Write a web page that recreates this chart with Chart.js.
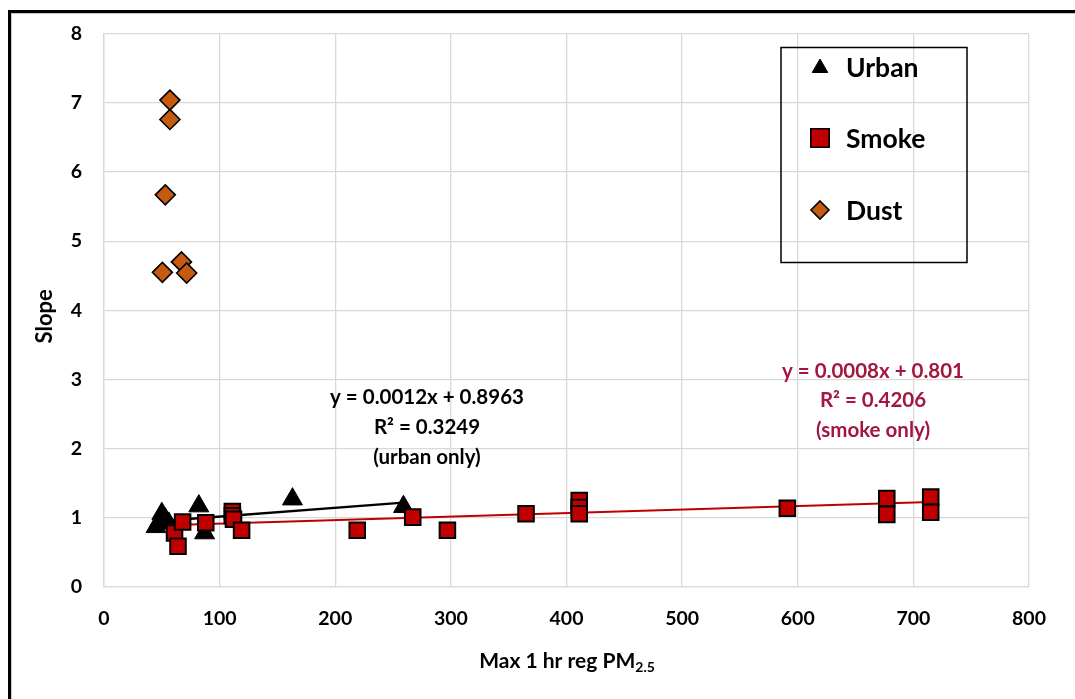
<!DOCTYPE html>
<html>
<head>
<meta charset="utf-8">
<script src="https://cdn.jsdelivr.net/npm/chart.js@4.4.1/dist/chart.umd.min.js"></script>
<style>
  html, body { margin: 0; padding: 0; background: #ffffff; }
  #wrap { position: relative; width: 1075px; height: 699px; overflow: hidden; }
</style>
</head>
<body>
<div id="wrap"><canvas id="c" width="1075" height="699"></canvas></div>
<script>
// ---- Data ----
const urbanX = [45, 48, 50, 53, 56, 82, 87, 163, 259];
const urbanY = [0.87, 0.95, 1.06, 0.98, 0.92, 1.17, 0.78, 1.27, 1.16];

const smokeX = [61, 64, 68, 88, 111, 111, 112, 119, 219, 267, 297, 365, 411, 411, 411, 591, 677, 677, 715, 715];
const smokeY = [0.78, 0.59, 0.94, 0.93, 1.09, 1.03, 0.98, 0.82, 0.82, 1.01, 0.82, 1.06, 1.25, 1.15, 1.06, 1.14, 1.28, 1.05, 1.30, 1.08];

const dustX = [57, 57, 53, 50.5, 67, 71.5];
const dustY = [7.04, 6.76, 5.67, 4.55, 4.70, 4.54];

// trend lines as drawn in the picture (end points)
const urbanFitX = [47, 259];
const urbanFitY = [0.95, 1.22];
const smokeFitX = [61, 715];
const smokeFitY = [0.895, 1.23];

const xTicks = [0, 100, 200, 300, 400, 500, 600, 700, 800];
const yTicks = [0, 1, 2, 3, 4, 5, 6, 7, 8];

const seriesNames = ['Urban', 'Smoke', 'Dust'];
const urbanEq = ['y = 0.0012x + 0.8963', 'R\u00B2 = 0.3249', '(urban only)'];
const smokeEq = ['y = 0.0008x + 0.801', 'R\u00B2 = 0.4206', '(smoke only)'];
const xTitle = 'Max 1 hr reg PM';
const xTitleSub = '2.5';
const yTitle = 'Slope';

const FONT = 'Lato, "Open Sans", sans-serif';
const RED = '#C00000';
const ORANGE = '#C55A11';
const EQRED = '#A3173E';

function pts(xs, ys) { return xs.map((x, i) => ({ x: x, y: ys[i] })); }

function drawMarker(ctx, style, x, y, r, fill) {
  ctx.save();
  ctx.beginPath();
  if (style === 'triangle') {
    ctx.moveTo(x, y - r);
    ctx.lineTo(x + r * 0.866, y + r * 0.5);
    ctx.lineTo(x - r * 0.866, y + r * 0.5);
  } else if (style === 'rect') {
    const s = r * Math.SQRT1_2;
    ctx.rect(x - s, y - s, 2 * s, 2 * s);
  } else {
    ctx.moveTo(x, y - r);
    ctx.lineTo(x + r, y);
    ctx.lineTo(x, y + r);
    ctx.lineTo(x - r, y);
  }
  ctx.closePath();
  ctx.fillStyle = fill;
  ctx.fill();
  ctx.lineWidth = style === 'triangle' ? 1 : 1.6;
  ctx.strokeStyle = '#000';
  ctx.stroke();
  ctx.restore();
}

const decor = {
  id: 'decor',
  beforeDraw(chart) {
    const ctx = chart.ctx;
    ctx.save();
    ctx.fillStyle = '#fff';
    ctx.fillRect(0, 0, chart.width, chart.height);
    // outer frame (cropped on right and bottom)
    ctx.strokeStyle = '#c8c8c8';
    ctx.lineWidth = 1;
    ctx.beginPath();
    ctx.moveTo(11.5, 13.5); ctx.lineTo(2000, 13.5);
    ctx.moveTo(11.5, 13.5); ctx.lineTo(11.5, 2000);
    ctx.stroke();
    ctx.strokeStyle = '#000';
    ctx.lineWidth = 3;
    ctx.strokeRect(9.5, 11.5, 2000, 2000);
    ctx.restore();
  },
  afterDraw(chart) {
    const ctx = chart.ctx;
    const area = chart.chartArea;
    ctx.save();
    // axis titles
    ctx.fillStyle = '#000';
    ctx.textBaseline = 'middle';
    ctx.font = 'bold 21px ' + FONT;
    const w1 = ctx.measureText(xTitle).width;
    ctx.font = 'bold 14px ' + FONT;
    const w2 = ctx.measureText(xTitleSub).width;
    const cx = 567;
    let sx = cx - (w1 + w2) / 2;
    ctx.font = 'bold 21px ' + FONT;
    ctx.textAlign = 'left';
    ctx.fillText(xTitle, sx, 661);
    ctx.font = 'bold 14px ' + FONT;
    ctx.fillText(xTitleSub, sx + w1, 667);

    ctx.save();
    ctx.translate(45, (area.top + area.bottom) / 2 + 6);
    ctx.rotate(-Math.PI / 2);
    ctx.textAlign = 'center';
    ctx.font = 'bold 22px ' + FONT;
    ctx.fillText(yTitle, 0, 0);
    ctx.restore();

    // equations
    ctx.textAlign = 'center';
    ctx.font = 'bold 20.5px ' + FONT;
    ctx.fillStyle = '#000';
    urbanEq.forEach((t, i) => ctx.fillText(t, 427, 397 + i * 30));
    ctx.fillStyle = EQRED;
    smokeEq.forEach((t, i) => ctx.fillText(t, 873, 371 + i * 29.5));

    // legend box
    ctx.strokeStyle = '#000';
    ctx.lineWidth = 1.5;
    ctx.strokeRect(781, 47.5, 186, 215);
    const rows = [67, 138, 210];
    drawMarker(ctx, 'triangle', 820, rows[0] + 1, 9, '#000');
    drawMarker(ctx, 'rect', 820, rows[1], 13, RED);
    drawMarker(ctx, 'diamond', 820, rows[2], 9, ORANGE);
    ctx.fillStyle = '#000';
    ctx.textAlign = 'left';
    ctx.font = 'bold 26.5px ' + FONT;
    seriesNames.forEach((n, i) => ctx.fillText(n, 846, rows[i] + 1));
    ctx.restore();
  }
};

new Chart(document.getElementById('c'), {
  type: 'scatter',
  data: {
    datasets: [
      {
        label: seriesNames[2], data: pts(dustX, dustY), order: 0,
        pointStyle: 'rectRot', pointRadius: 10, pointHoverRadius: 10,
        backgroundColor: ORANGE, borderColor: '#000', borderWidth: 1.6
      },
      {
        label: seriesNames[1], data: pts(smokeX, smokeY), order: 1,
        pointStyle: 'rect', pointRadius: 11, pointHoverRadius: 11,
        backgroundColor: RED, borderColor: '#000', borderWidth: 2
      },
      {
        label: seriesNames[0], data: pts(urbanX, urbanY), order: 2,
        pointStyle: 'triangle', pointRadius: 11.5, pointHoverRadius: 11.5,
        backgroundColor: '#000', borderColor: '#000', borderWidth: 1
      },
      {
        label: 'smoke fit', data: pts(smokeFitX, smokeFitY), order: 3,
        showLine: true, pointRadius: 0, borderColor: RED, borderWidth: 2, fill: false
      },
      {
        label: 'urban fit', data: pts(urbanFitX, urbanFitY), order: 4,
        showLine: true, pointRadius: 0, borderColor: '#000', borderWidth: 2.5, fill: false
      }
    ]
  },
  options: {
    responsive: false,
    animation: false,
    events: [],
    layout: { padding: { left: 0, top: 32, right: 46, bottom: 0 } },
    plugins: { legend: { display: false }, tooltip: { enabled: false } },
    scales: {
      x: {
        type: 'linear', min: xTicks[0], max: xTicks[xTicks.length - 1],
        afterBuildTicks(s) { s.ticks = xTicks.map(v => ({ value: v })); },
        afterFit(s) { s.height = 699 - 587; },
        grid: { color: '#d9d9d9', lineWidth: 1.3, drawTicks: false },
        border: { color: '#d9d9d9', width: 1.3 },
        ticks: { padding: 20, color: '#000', font: { family: FONT, weight: 'bold', size: 19.5 } }
      },
      y: {
        type: 'linear', min: yTicks[0], max: yTicks[yTicks.length - 1],
        afterBuildTicks(s) { s.ticks = yTicks.map(v => ({ value: v })); },
        afterFit(s) { s.width = 104; },
        grid: { color: '#d9d9d9', lineWidth: 1.3, drawTicks: false },
        border: { color: '#d9d9d9', width: 1.3 },
        ticks: { padding: 22, color: '#000', font: { family: FONT, weight: 'bold', size: 19.5 } }
      }
    }
  },
  plugins: [decor]
});
</script>
</body>
</html>
